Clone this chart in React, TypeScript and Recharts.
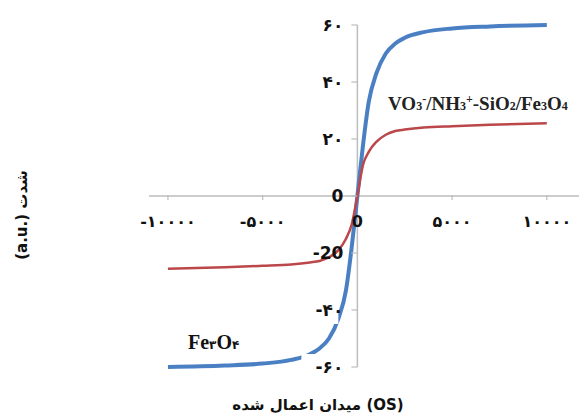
import React from 'react'
import { LineChart, Line, XAxis, YAxis, ReferenceLine, ReferenceDot } from 'recharts'

// applied field (OS)
const FIELD = [-10000, -7000, -5000, -3500, -2500, -2000, -1500, -1000, -600, -300, 0, 300, 600, 1000, 1500, 2000, 2500, 3500, 5000, 7000, 10000]
// Fe3O4 magnetisation
const FE3O4 = [-60, -59.5, -58.8, -57.5, -55.5, -53.5, -50, -43, -33, -18, 0, 18, 33, 43, 50, 53.5, 55.5, 57.5, 58.8, 59.5, 60]
// VO3-/NH3+-SiO2/Fe3O4 magnetisation
const COATED = [-25.5, -25, -24.5, -24, -23.3, -22.8, -21.5, -19, -15, -10, 0, 11, 15.5, 19, 21.5, 22.8, 23.3, 24, 24.5, 25, 25.5]

const X_TICKS = [-10000, -5000, 0, 5000, 10000]
const X_TICK_LABELS = ['-۱۰۰۰۰', '-۵۰۰۰', '0', '۵۰۰۰', '۱۰۰۰۰']
const Y_TICKS = [60, 40, 20, 0, -20, -40, -60]
const Y_TICK_LABELS = ['۶۰', '۴۰', '۲۰', '0', '-20', '-۴۰', '-۶۰']
const Y_BOXED = [false, false, false, false, false, true, true]

const data = FIELD.map((f, i) => ({ field: f, fe3o4: FE3O4[i], coated: COATED[i] }))

const AXIS_GREY = '#bdbdbd'
const FA_FONT = '"DejaVu Sans", sans-serif'

function XTick(props: any) {
  const { cx, cy, label, isZero } = props
  return (
    <g>
      {!isZero && <line x1={cx} x2={cx} y1={cy - 1} y2={cy + 4} stroke={AXIS_GREY} strokeWidth={1.2} />}
      <text
        x={cx}
        y={cy + 25}
        textAnchor="middle"
        dominantBaseline="central"
        fontFamily={FA_FONT}
        fontWeight="bold"
        fontSize={16}
        fill="#111"
      >
        {label}
      </text>
    </g>
  )
}

function YTick(props: any) {
  const { cx, cy, label, boxed } = props
  return (
    <g>
      <line x1={cx - 6} x2={cx} y1={cy} y2={cy} stroke={AXIS_GREY} strokeWidth={1.2} />
      {boxed && <rect x={cx - 56} y={cy - 13} width={37} height={27} fill="#fff" />}
      <text
        x={cx - 14}
        y={cy}
        textAnchor="end"
        dominantBaseline="central"
        fontFamily={FA_FONT}
        fontWeight="bold"
        fontSize={17}
        fill="#111"
      >
        {label}
      </text>
    </g>
  )
}

const sub = { fontSize: 12 }

export default function App() {
  return (
    <div style={{ position: 'relative', width: 582, height: 417, background: '#fff' }}>
      <style>{'body{margin:0}'}</style>
      <LineChart width={582} height={417} data={data} margin={{ top: 25, right: 3, bottom: 50, left: 149 }}>
        <XAxis dataKey="field" type="number" domain={[-11000, 11700]} hide />
        <YAxis type="number" domain={[-60, 60]} hide />
        <ReferenceLine y={0} stroke={AXIS_GREY} strokeWidth={1.5} />
        <ReferenceLine x={0} stroke={AXIS_GREY} strokeWidth={1.5} />
        {X_TICKS.map((t, i) => (
          <ReferenceDot
            key={'x' + t}
            x={t}
            y={0}
            r={0}
            shape={(p: any) => <XTick {...p} label={X_TICK_LABELS[i]} isZero={t === 0} />}
          />
        ))}
        <Line
          type="monotone"
          dataKey="fe3o4"
          stroke="#4a80c3"
          strokeWidth={4}
          dot={false}
          isAnimationActive={false}
        />
        <Line
          type="monotone"
          dataKey="coated"
          stroke="#bb474a"
          strokeWidth={2.5}
          dot={false}
          isAnimationActive={false}
        />
        {Y_TICKS.map((t, i) => (
          <ReferenceDot
            key={'y' + t}
            x={0}
            y={t}
            r={0}
            shape={(p: any) => <YTick {...p} label={Y_TICK_LABELS[i]} boxed={Y_BOXED[i]} />}
          />
        ))}
      </LineChart>

      <div
        style={{
          position: 'absolute', left: 388, top: 88, whiteSpace: 'nowrap',
          fontFamily: '"Liberation Serif", serif', fontWeight: 'bold', fontSize: 19, color: '#222', lineHeight: '22px',
        }}
      >
        VO<span style={sub}>3</span><sup style={sub}>-</sup>/NH<span style={sub}>3</span>
        <sup style={sub}>+</sup>-SiO<span style={sub}>2</span>/Fe<span style={sub}>3</span>O<span style={sub}>4</span>
      </div>

      <div
        style={{
          position: 'absolute', left: 188, top: 330, whiteSpace: 'nowrap',
          fontFamily: '"Liberation Serif", serif', fontWeight: 'bold', fontSize: 20, color: '#111', lineHeight: '24px',
        }}
      >
        Fe<span style={{ fontFamily: FA_FONT, fontSize: 12 }}>۳</span>O<span style={{ fontFamily: FA_FONT, fontSize: 12 }}>۴</span>
      </div>

      <div
        dir="ltr"
        style={{
          position: 'absolute', left: 22, top: 215, transform: 'translate(-50%, -50%) rotate(-90deg)', whiteSpace: 'nowrap',
          fontFamily: FA_FONT, fontWeight: 'bold', fontSize: 15, color: '#111',
        }}
      >
        (a.u.) شدت
      </div>

      <div
        dir="ltr"
        style={{
          position: 'absolute', left: 318, top: 405, transform: 'translate(-50%, -50%)', whiteSpace: 'nowrap',
          fontFamily: FA_FONT, fontWeight: 'bold', fontSize: 15, color: '#111',
        }}
      >
        میدان اعمال شده (OS)
      </div>
    </div>
  )
}
